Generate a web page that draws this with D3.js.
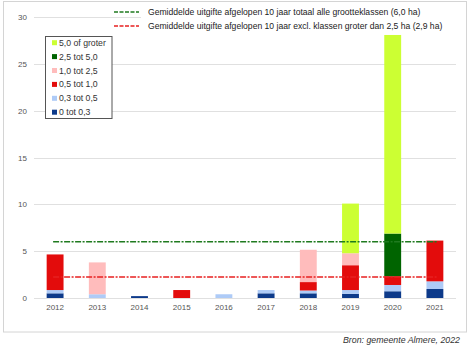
<!DOCTYPE html>
<html><head><meta charset="utf-8">
<script src="https://cdn.jsdelivr.net/npm/d3@7"></script>
<style>body{margin:0;background:#fff}svg{display:block}text{font-family:"Liberation Sans",Arial,sans-serif}</style>
</head><body>
<svg id="c" width="474" height="346"></svg>
<script>
const years = ["2012","2013","2014","2015","2016","2017","2018","2019","2020","2021"];
const seriesNames = ["0 tot 0,3","0,3 tot 0,5","0,5 tot 1,0","1,0 tot 2,5","2,5 tot 5,0","5,0 of groter"];
const seriesColors = ["#0d3a8a","#aecbf7","#e30c0c","#ffbcbc","#006400","#ccff33"];
const s0 = [0.5, 0, 0.2, 0, 0, 0.5, 0.5, 0.45, 0.72, 0.96];
const s1 = [0.35, 0.4, 0, 0, 0.4, 0.35, 0.3, 0.4, 0.67, 0.82];
const s2 = [3.8, 0, 0, 0.85, 0, 0, 0.9, 2.65, 0.93, 4.35];
const s3 = [0, 3.4, 0, 0, 0, 0, 3.45, 1.28, 0, 0];
const s4 = [0, 0, 0, 0, 0, 0, 0, 0, 4.56, 0];
const s5 = [0, 0, 0, 0, 0, 0, 0, 5.3, 21.2, 0];
const yTicks = [0, 5, 10, 15, 20, 25, 30];
const avgLabels = ["Gemiddelde uitgifte afgelopen 10 jaar totaal alle grootteklassen (6,0 ha)",
                   "Gemiddelde uitgifte afgelopen 10 jaar excl. klassen groter dan 2,5 ha (2,9 ha)"];
const avgValues = [6.0, 2.25];
const avgColors = ["#1f7a1f", "#e82020"];
const source = "Bron: gemeente Almere, 2022";

const svg = d3.select("#c");
const L = 34, R = 456, T = 17, B = 298;
const x = d3.scaleBand().domain(years).range([L, R]).padding(0);
const y = d3.scaleLinear().domain([0, 30]).range([B, T]);

// frame
svg.append("rect").attr("x",3.5).attr("y",1.5).attr("width",463).attr("height",330.5)
  .attr("fill","#fff").attr("stroke","#d4d4d4");

// grid
svg.append("g").selectAll("line").data(yTicks).join("line")
  .attr("x1",L).attr("x2",R).attr("y1",d=>Math.round(y(d))+0.5).attr("y2",d=>Math.round(y(d))+0.5)
  .attr("stroke","#e0e0e0").attr("stroke-width",1.2);

// y labels
svg.append("g").selectAll("text").data(yTicks).join("text")
  .attr("x",27).attr("y",d=>y(d)+3).attr("text-anchor","end")
  .attr("font-size",8).attr("fill","#555").text(d=>d);

// x labels
svg.append("g").selectAll("text").data(years).join("text")
  .attr("x",d=>x(d)+x.bandwidth()/2).attr("y",310).attr("text-anchor","middle")
  .attr("font-size",8).attr("fill","#555").text(d=>d);

// stacked bars
const rows = years.map((yr,i)=>({year:yr, s0:s0[i], s1:s1[i], s2:s2[i], s3:s3[i], s4:s4[i], s5:s5[i]}));
const keys = ["s0","s1","s2","s3","s4","s5"];
const stack = d3.stack().keys(keys)(rows);
const bw = x.bandwidth()*0.4;
svg.append("g").selectAll("g").data(stack).join("g")
  .attr("fill",(d,i)=>seriesColors[i])
  .selectAll("rect").data(d=>d.filter(p=>p[1]-p[0]>0)).join("rect")
  .attr("x",d=>x(d.data.year)+(x.bandwidth()-bw)/2)
  .attr("width",bw)
  .attr("y",d=>y(d[1]))
  .attr("height",d=>y(d[0])-y(d[1]));

// average lines
svg.append("g").selectAll("line").data(avgValues).join("line")
  .attr("x1",x(years[0])+x.bandwidth()/2-2)
  .attr("x2",x(years[years.length-1])+x.bandwidth()/2+2)
  .attr("y1",d=>y(d)).attr("y2",d=>y(d))
  .attr("stroke",(d,i)=>avgColors[i]).attr("stroke-width",1.6)
  .attr("stroke-dasharray","6,1.5,2,1.5");

// top legend
svg.append("rect").attr("x",141).attr("y",4).attr("width",315).attr("height",28).attr("fill","#fff");
const tl = svg.append("g").selectAll("g").data(avgLabels).join("g")
  .attr("transform",(d,i)=>`translate(0,${12+i*14})`);
tl.append("line").attr("x1",114).attr("x2",139).attr("y1",0).attr("y2",0)
  .attr("stroke",(d,i)=>avgColors[i]).attr("stroke-width",1.6).attr("stroke-dasharray","4,1.5");
tl.append("text").attr("x",148).attr("y",3).attr("font-size",8.6).attr("fill","#222").text(d=>d);

// box legend
svg.append("rect").attr("x",45.5).attr("y",36.5).attr("width",66.5).attr("height",82)
  .attr("fill","#fff").attr("stroke","#555").attr("stroke-width",1);
const order = [5,4,3,2,1,0];
const bl = svg.append("g").selectAll("g").data(order).join("g")
  .attr("transform",(d,i)=>`translate(0,${42.7+i*13.9})`);
bl.append("rect").attr("x",52).attr("y",-2.5).attr("width",5).attr("height",5).attr("fill",d=>seriesColors[d]);
bl.append("text").attr("x",59).attr("y",3).attr("font-size",8.7).attr("fill","#333").text(d=>seriesNames[d]);

// source
svg.append("text").attr("x",460).attr("y",343).attr("text-anchor","end")
  .attr("font-size",8.8).attr("font-style","italic").attr("fill","#333").text(source);
</script>
</body></html>
